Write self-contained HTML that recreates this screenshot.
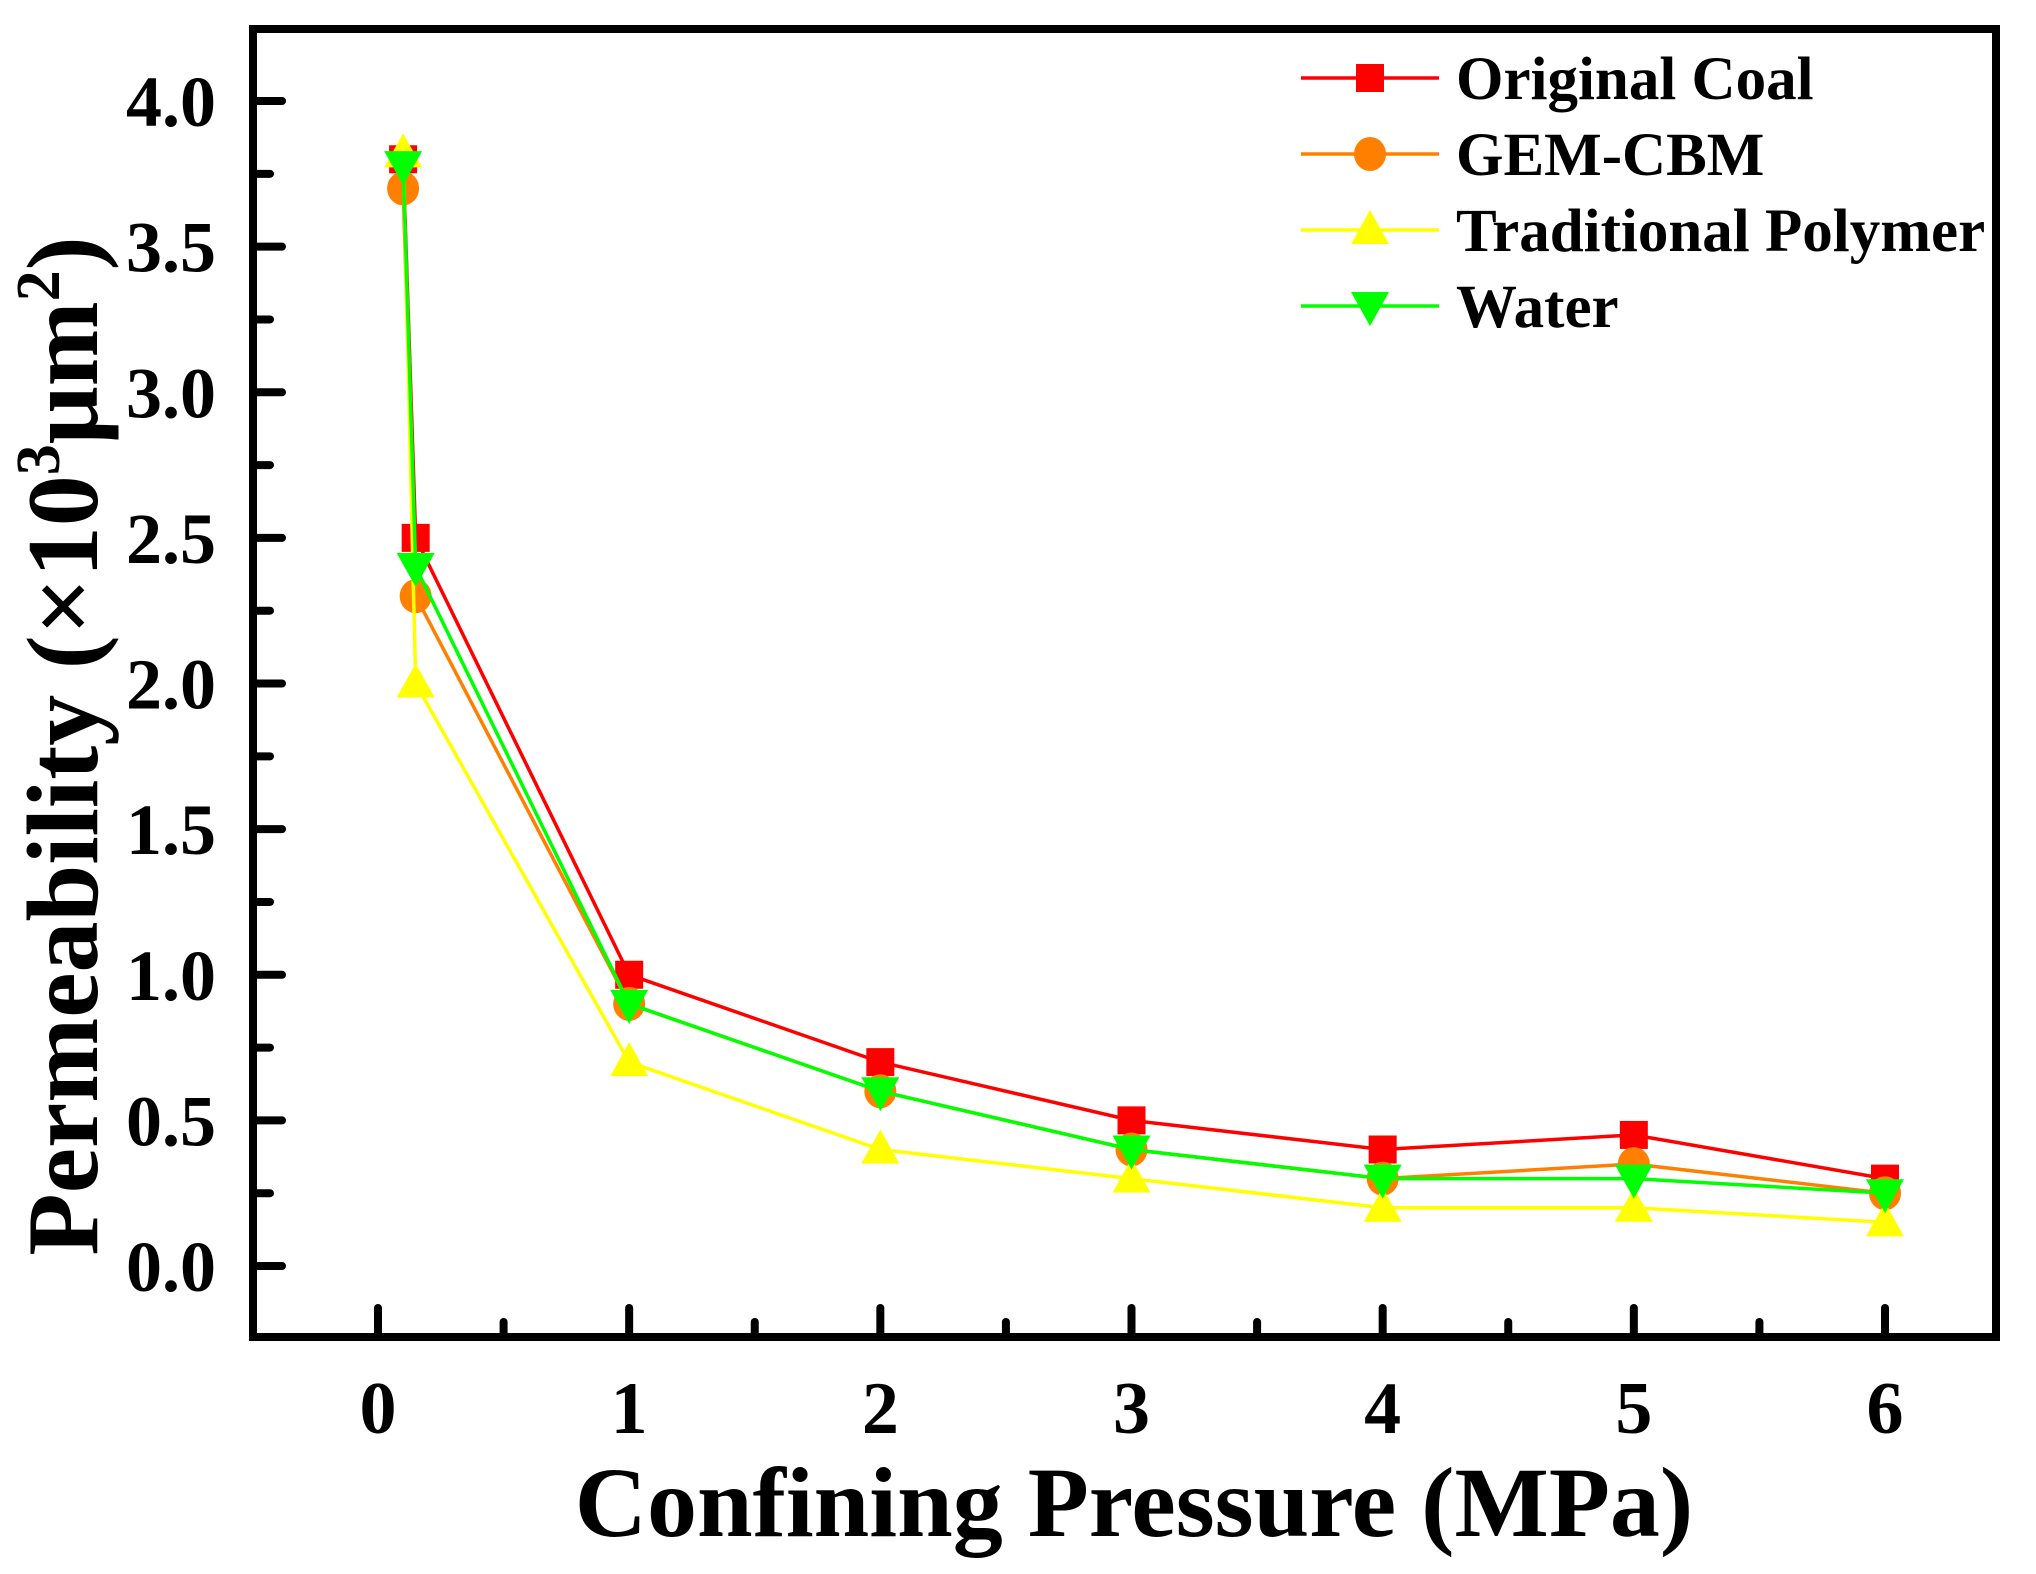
<!DOCTYPE html>
<html><head><meta charset="utf-8"><style>
html,body{margin:0;padding:0;background:#fff;width:2036px;height:1574px;overflow:hidden}
svg{display:block}
text{font-family:"Liberation Serif","Times New Roman",serif;font-weight:bold;fill:#000}
</style></head><body>
<svg id="chart" width="2036" height="1574" viewBox="0 0 2036 1574" xmlns="http://www.w3.org/2000/svg">
<g id="plot"></g>
</svg>
<script>
const xValues = [0.1, 0.15, 1, 2, 3, 4, 5, 6];
const seriesNames = ["Original Coal", "GEM-CBM", "Traditional Polymer", "Water"];
const originalCoal = [3.8, 2.5, 1.0, 0.7, 0.5, 0.4, 0.45, 0.3];
const gemCbm = [3.7, 2.3, 0.9, 0.6, 0.4, 0.3, 0.35, 0.25];
const traditionalPolymer = [3.82, 2.0, 0.7, 0.4, 0.3, 0.2, 0.2, 0.15];
const water = [3.78, 2.4, 0.9, 0.6, 0.4, 0.3, 0.3, 0.25];
const yTickLabels = ["0.0","0.5","1.0","1.5","2.0","2.5","3.0","3.5","4.0"];
const xTickLabels = ["0","1","2","3","4","5","6"];

const NS = "http://www.w3.org/2000/svg";
const svg = document.getElementById('plot');
const L = 253, T = 29, R = 1996, B = 1337;
function xs(v){ return 378 + v * (1885 - 378) / 6; }
function ys(v){ return 1266 - v * (1266 - 101) / 4; }
function mk(tag, attrs, parent){
  const e = document.createElementNS(NS, tag);
  for (const k in attrs) e.setAttribute(k, attrs[k]);
  (parent || svg).appendChild(e);
  return e;
}

const frame = mk('rect', {x:L, y:T, width:R-L, height:B-T, fill:'none', stroke:'#000', 'stroke-width':8});



for (let i = 0; i <= 16; i++) {
  const v = i * 0.25, y = ys(v);
  const major = i % 2 === 0;
  const t = mk('line', {x1:L, x2:L + (major ? 29 : 17), y1:y, y2:y, stroke:'#000', 'stroke-width':8, 'stroke-linecap':'round'});
  
  
}
yTickLabels.forEach(function(s){
  const t = mk('text', {x:216, y:ys(parseFloat(s)) + 25, 'text-anchor':'end', 'font-size':72});
  t.textContent = s;
  
  
});
for (let i = 0; i <= 12; i++) {
  const v = i * 0.5, x = xs(v);
  const major = i % 2 === 0;
  const t = mk('line', {x1:x, x2:x, y1:B, y2:B - (major ? 29 : 15), stroke:'#000', 'stroke-width':8, 'stroke-linecap':'round'});
  
  
}
xTickLabels.forEach(function(s){
  const t = mk('text', {x:xs(parseFloat(s)), y:1433, 'text-anchor':'middle', 'font-size':74});
  t.textContent = s;
  
  
});

const xt = mk('text', {x:1134, y:1536, 'text-anchor':'middle', 'font-size':100});
xt.textContent = 'Confining Pressure (MPa)';


const yt = mk('text', {x:0, y:0, 'text-anchor':'middle', 'font-size':102, transform:'translate(97,746) rotate(-90)'});
yt.innerHTML = 'Permeability (×10<tspan dy="-38" font-size="62">3</tspan><tspan dy="38">μm</tspan><tspan dy="-38" font-size="62">2</tspan><tspan dy="38">)</tspan>';



const colors = ['#ff0000', '#ff8000', '#ffff00', '#00ff00'];
const allSeries = [originalCoal, gemCbm, traditionalPolymer, water];
const shapes = ['square', 'circle', 'up', 'down'];

function marker(shape, x, y, color, g){
  let e;
  if (shape === 'square') e = mk('rect', {x:x-14, y:y-14, width:28, height:28, fill:color}, g);
  else if (shape === 'circle') e = mk('ellipse', {cx:x, cy:y, rx:16, ry:17, fill:color}, g);
  else if (shape === 'up') e = mk('polygon', {points:(x)+','+(y-20)+' '+(x-19)+','+(y+14)+' '+(x+19)+','+(y+14), fill:color}, g);
  else e = mk('polygon', {points:(x)+','+(y+20)+' '+(x-19)+','+(y-14)+' '+(x+19)+','+(y-14), fill:color}, g);
  return e;
}

allSeries.forEach(function(vals, si){
  const g = mk('g', {});
  
  
  const pts = vals.map(function(v, i){ return xs(xValues[i]) + ',' + ys(v); }).join(' ');
  const pl = mk('polyline', {points:pts, fill:'none', stroke:colors[si], 'stroke-width':3.5}, g);
  
  
  vals.forEach(function(v, i){
    const m = marker(shapes[si], xs(xValues[i]), ys(v), colors[si], g);
    
    
  });
});

const legend = mk('g', {});


const rowsY = [78, 154, 230, 306];
seriesNames.forEach(function(name, si){
  const g = mk('g', {}, legend);
  
  
  mk('line', {x1:1301, x2:1439, y1:rowsY[si], y2:rowsY[si], stroke:colors[si], 'stroke-width':3.5}, g);
  marker(shapes[si], 1370, rowsY[si], colors[si], g);
  const t = mk('text', {x:1456, y:rowsY[si] + 21, 'font-size':61}, g);
  t.textContent = name;
});
</script>
</body></html>
